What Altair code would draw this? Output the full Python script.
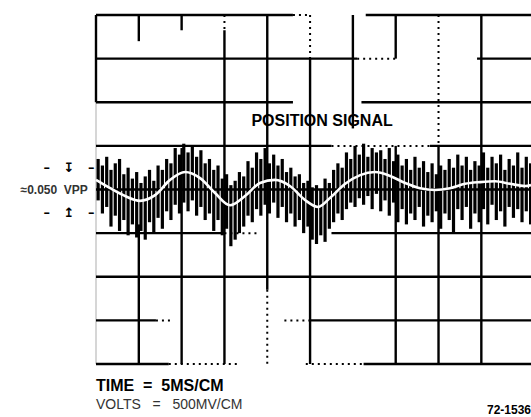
import altair as alt
import pandas as pd

# ---- noisy trace: vertical spikes (time in divisions, volts in divisions)
spike_t = [0.05, 0.15, 0.25, 0.35, 0.45, 0.55, 0.65, 0.75, 0.85, 0.95,
           1.05, 1.15, 1.25, 1.35, 1.45, 1.55, 1.65, 1.75, 1.85, 1.95,
           2.05, 2.15, 2.25, 2.35, 2.45, 2.55, 2.65, 2.75, 2.85, 2.95,
           3.05, 3.15, 3.25, 3.35, 3.45, 3.55, 3.65, 3.75, 3.85, 3.95,
           4.05, 4.15, 4.25, 4.35, 4.45, 4.55, 4.65, 4.75, 4.85, 4.95,
           5.05, 5.15, 5.25, 5.35, 5.45, 5.55, 5.65, 5.75, 5.85, 5.95,
           6.05, 6.15, 6.25, 6.35, 6.45, 6.55, 6.65, 6.75, 6.85, 6.95,
           7.05, 7.15, 7.25, 7.35, 7.45, 7.55, 7.65, 7.75, 7.85, 7.95,
           8.05, 8.15, 8.25, 8.35, 8.45, 8.55, 8.65, 8.75, 8.85, 8.95,
           9.05, 9.15, 9.25, 9.35, 9.45, 9.55, 9.65, 9.75, 9.85, 9.95,
           10.05, 10.15]
spike_hi = [0.70, 0.55, 0.75, 0.45, 0.60, 0.70, 0.35, 0.50, 0.25, 0.40,
            0.15, 0.30, 0.45, 0.20, 0.55, 0.45, 0.70, 0.60, 0.95, 0.80,
            1.05, 0.85, 1.00, 0.75, 0.90, 0.60, 0.70, 0.45, 0.55, 0.25,
            0.35, 0.10, 0.20, 0.40, 0.30, 0.65, 0.50, 0.85, 0.70, 0.95,
            0.60, 0.80, 0.55, 0.70, 0.40, 0.50, 0.30, 0.35, 0.15, 0.20,
            0.05, 0.10, 0.00, 0.25, 0.15, 0.45, 0.60, 0.50, 0.85, 0.70,
            1.00, 0.80, 1.05, 0.75, 0.95, 0.85, 0.90, 0.70, 0.95, 0.65,
            0.80, 0.55, 0.70, 0.45, 0.75, 0.50, 0.65, 0.40, 0.60, 0.35,
            0.55, 0.45, 0.70, 0.50, 0.80, 0.55, 0.75, 0.45, 0.65, 0.55,
            0.85, 0.50, 0.75, 0.60, 0.80, 0.45, 0.70, 0.55, 0.85, 0.50,
            0.75, 0.60]
spike_lo = [-0.25, -0.55, -0.40, -0.85, -0.60, -0.95, -0.70, -1.05, -0.80, -1.10,
            -0.95, -1.15, -0.75, -1.00, -0.65, -0.90, -0.50, -0.70, -0.35, -0.55,
            -0.30, -0.50, -0.25, -0.60, -0.40, -0.70, -0.55, -0.95, -0.70, -1.05,
            -0.90, -1.30, -1.15, -1.00, -0.85, -0.60, -0.75, -0.45, -0.60, -0.35,
            -0.55, -0.30, -0.65, -0.40, -0.75, -0.55, -0.85, -0.70, -1.00, -0.85,
            -1.15, -1.25, -1.05, -1.20, -0.90, -0.75, -0.55, -0.70, -0.45, -0.30,
            -0.40, -0.20, -0.35, -0.15, -0.45, -0.10, -0.50, -0.25, -0.60, -0.30,
            -0.75, -0.45, -0.80, -0.55, -0.70, -0.40, -0.85, -0.60, -0.75, -0.50,
            -0.90, -0.55, -0.70, -1.00, -0.45, -0.70, -0.40, -0.90, -0.55, -0.75,
            -0.45, -0.80, -0.35, -0.70, -0.50, -0.85, -0.40, -0.65, -0.45, -0.75,
            -0.50, -0.80]

# ---- the underlying position signal (white curve)
curve_t = [0.0, 0.33, 0.68, 1.03, 1.38, 1.73, 2.08, 2.43, 2.78, 3.13, 3.48,
           3.83, 4.18, 4.53, 4.88, 5.19, 5.47, 5.82, 6.17, 6.52, 6.87, 7.22,
           7.57, 7.92, 8.27, 8.62, 8.97, 9.32, 9.67, 10.02, 10.16]
curve_v = [0.22, 0.03, -0.15, -0.26, -0.13, 0.22, 0.40, 0.26, -0.08, -0.36, -0.15,
           0.15, 0.22, 0.08, -0.24, -0.40, -0.19, 0.13, 0.33, 0.40, 0.31, 0.15,
           0.03, -0.01, 0.03, 0.13, 0.17, 0.19, 0.13, 0.08, 0.10]

# ---- graticule segments (x, x2, y, y2, style)
grid_x  = [0, 4.6, 6.3,  0, 6.1, 8.9,  0, 6.2,  0, 5.5, 7.8,  0,     0, 3.0, 5.5,  0,
           0, 1.4, 4.4, 5.0,  0, 1.7, 4.9, 6.25,
           0, 0, 1, 1, 2, 2, 3, 3, 4, 4, 5, 5, 6, 7, 7, 8, 8, 9]
grid_x2 = [4.6, 5.0, 10.16, 6.1, 7.0, 10.16, 4.6, 10.16, 5.5, 7.8, 10.16, 10.16, 3.0, 3.8, 10.16, 10.16,
           1.4, 1.8, 5.0, 10.16, 1.7, 3.3, 6.25, 10.16,
           0, 0, 1, 1, 2, 2, 3, 3, 4, 4, 5, 5, 6, 7, 7, 8, 8, 9]
grid_y  = [4, 4, 4, 3, 3, 3, 2, 2, 1, 1, 1, 0, -1, -1, -1, -2,
           -3, -3, -3, -3, -4, -4, -4, -4,
           4, 2, 4, -0.8, 4, 0.95, 4, 3.65, 4, -2.3, 4, 3, 4, 4, 1.0, 4, 1.0, 4]
grid_y2 = [4, 4, 4, 3, 3, 3, 2, 2, 1, 1, 1, 0, -1, -1, -1, -2,
           -3, -3, -3, -3, -4, -4, -4, -4,
           2, -4, 3.4, -4, 3.65, -4, 3.65, -4, -2.3, -4, 3, -4, 1.4, 3.0, -4, 1.0, -4, -4]
grid_style = ["s", "d", "s", "s", "d", "s", "s", "s", "s", "d", "s", "s", "s", "d", "s", "s",
              "s", "d", "d", "s", "s", "d", "d", "s",
              "s", "l", "s", "s", "s", "s", "d", "s", "s", "d", "d", "s", "s", "s", "s", "d", "s", "s"]

# ---- annotations
NB = "\u00a0"
labels = ["POSITION SIGNAL",
          "≈0.050" + NB * 2 + "VPP",
          "–" + NB * 3 + "↧" + NB * 3 + "–",
          "–" + NB * 3 + "↥" + NB * 3 + "–",
          "TIME" + NB * 2 + "=" + NB * 2 + "5MS/CM",
          "VOLTS" + NB * 3 + "=" + NB * 3 + "500MV/CM",
          "72-1536"]

XD = [0, 10.16]
YD = [-4, 4]
xs = alt.Scale(domain=XD, nice=False, zero=False)
ys = alt.Scale(domain=YD, nice=False, zero=False)

grid = pd.DataFrame({"x": grid_x, "x2": grid_x2, "y": grid_y, "y2": grid_y2, "s": grid_style})
spikes = pd.DataFrame({"t": spike_t, "hi": spike_hi, "lo": spike_lo})
curve = pd.DataFrame({"t": curve_t, "v": curve_v})


def seg_layer(style, color, dash=None, width=2.4):
    kw = dict(color=color, strokeWidth=width, strokeCap="butt")
    if dash:
        kw["strokeDash"] = dash
    return alt.Chart(grid[grid.s == style]).mark_rule(**kw).encode(
        x=alt.X("x:Q", scale=xs, axis=None),
        x2="x2:Q",
        y=alt.Y("y:Q", scale=ys, axis=None),
        y2="y2:Q",
    )


solid = seg_layer("s", "black")
dotted = seg_layer("d", "black", dash=[2, 4], width=2)
light = seg_layer("l", "#c8c8c8", width=1.5)

noise = alt.Chart(spikes).mark_rule(color="black", strokeWidth=3.2, strokeCap="butt").encode(
    x=alt.X("t:Q", scale=xs, axis=None),
    y=alt.Y("hi:Q", scale=ys, axis=None),
    y2="lo:Q",
)

signal = alt.Chart(curve).mark_line(color="white", strokeWidth=2.6, interpolate="monotone").encode(
    x=alt.X("t:Q", scale=xs, axis=None),
    y=alt.Y("v:Q", scale=ys, axis=None),
)

ann = pd.DataFrame({
    "x": [5.28, -0.19, -0.63, -0.63, 0.0, 0.0, 10.16],
    "y": [1.57, 0.0, 0.49, -0.54, -4.51, -4.93, -5.06],
    "text": labels,
    "align": ["center", "right", "center", "center", "left", "left", "right"],
})


def text_layer(i, size, weight="bold", color="black", font="Liberation Sans"):
    row = ann.iloc[[i]]
    return alt.Chart(row).mark_text(
        align=row["align"].iloc[0], baseline="middle", fontSize=size,
        fontWeight=weight, color=color, font=font,
    ).encode(
        x=alt.X("x:Q", scale=xs, axis=None),
        y=alt.Y("y:Q", scale=ys, axis=None),
        text="text:N",
    )


texts = [
    text_layer(0, 16),
    text_layer(1, 12, color="#333"),
    text_layer(2, 13, font="DejaVu Sans"),
    text_layer(3, 13, font="DejaVu Sans"),
    text_layer(4, 16),
    text_layer(5, 14, weight="normal", color="#333"),
    text_layer(6, 12),
]

chart = alt.layer(light, solid, dotted, noise, signal, *texts).properties(
    width=435, height=349,
    autosize=alt.AutoSizeParams(type="none"),
    padding={"left": 96, "top": 15, "right": 0, "bottom": 53},
    background="white",
).configure_view(stroke=None)

chart.save("out.html", embed_options={"renderer": "svg", "actions": False})
